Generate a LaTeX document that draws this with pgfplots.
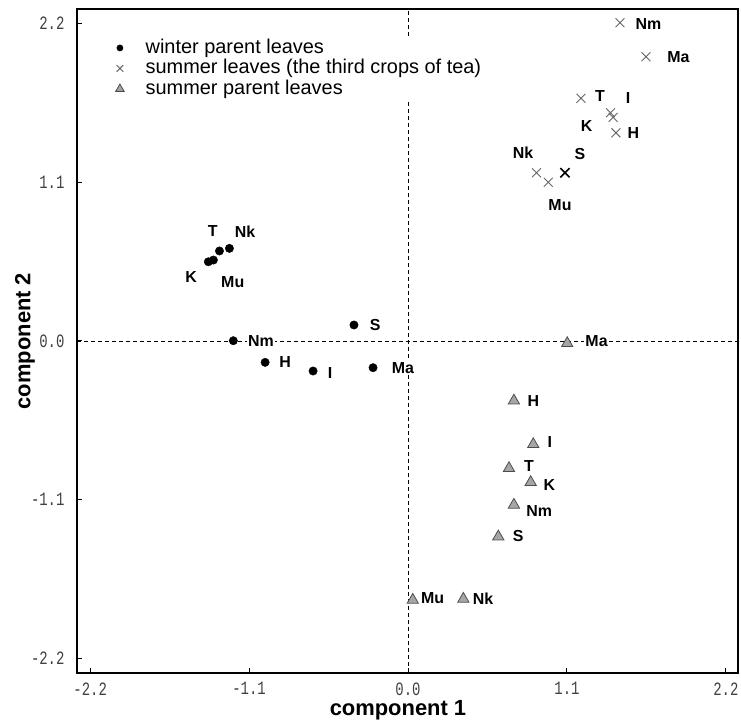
\documentclass[border=0pt]{standalone}
\usepackage{graphicx}
\usepackage{pgfplots}
\pgfplotsset{compat=1.18}
\usepackage{fontspec}
\setmainfont{Liberation Sans}
\newfontfamily\tickfont{Liberation Mono}
\newcommand\tl[1]{\scalebox{1}[1.35]{#1}}

\pgfplotstableread{
x y
-1.382 0.549
-1.347 0.561
-1.305 0.624
-1.236 0.642
-1.209 0.002
-0.374 0.111
-0.989 -0.148
-0.657 -0.208
-0.242 -0.185
}\winter

\pgfplotstableread{
x y
1.467 2.206
1.647 1.970
1.197 1.682
1.402 1.582
1.420 1.550
1.439 1.443
0.890 1.166
0.971 1.100
}\summer

\pgfplotstableread{
x y
0.733 -0.414
0.867 -0.716
0.699 -0.882
0.849 -0.979
0.733 -1.136
0.625 -1.356
0.383 -1.788
0.033 -1.795
1.102 -0.016
}\parent

\begin{document}
\begin{tikzpicture}
\begin{axis}[
  scale only axis, width=661bp, height=664bp,
  xmin=-2.291, xmax=2.284, ymin=-2.301, ymax=2.301,
  xtick={-2.2,-1.1,0,1.1,2.2}, ytick={-2.2,-1.1,0,1.1,2.2},
  xticklabels={\tl{-2.2},\tl{-1.1},\tl{0.0},\tl{1.1},\tl{2.2}},
  yticklabels={\tl{-2.2},\tl{-1.1},\tl{0.0},\tl{1.1},\tl{2.2}},
  tick align=inside, xtick pos=bottom, ytick pos=left,
  major tick length=5bp,
  major tick style={black, line width=1bp},
  axis line style={line width=1.3bp, black},
  ticklabel style={font=\tickfont\fontsize{14}{14}\selectfont, text=black!75},
  xticklabel style={yshift=-6bp},
  yticklabel style={xshift=-9bp},
  xlabel={\textbf{component 1}}, ylabel={\textbf{component 2}},
  label style={font=\fontsize{22}{22}\selectfont},
  xlabel style={at={(axis description cs:0.4856,-0.0557)}, anchor=center},
  ylabel style={at={(axis description cs:-0.0787,0.5)}, anchor=center},
  legend style={at={(axis description cs:0,1)}, anchor=north west, xshift=38.5bp, yshift=-28.5bp,
    draw=none, fill=white, inner sep=0bp, font=\fontsize{20}{20}\selectfont,
    nodes={inner sep=1bp, text height=14.5bp, text depth=4bp},
    /tikz/every odd column/.append style={column sep=20.5bp}},
  legend cell align=left,
  legend image code/.code={\draw[mark repeat=2,mark phase=2,#1,/tikz/every mark/.append style={scale=0.75}] plot coordinates {(0cm,0cm)(0.3cm,0cm)(0.6cm,0cm)};},
]
\draw[dash pattern=on 4bp off 3bp, line width=0.8bp] (axis cs:0,-2.301) -- (axis cs:0,2.301);
\draw[dash pattern=on 4bp off 3bp, line width=0.8bp] (axis cs:-2.291,0) -- (axis cs:2.284,0);

\addplot[only marks, mark=*, mark size=4.2bp, black] table {\winter};
\addlegendentry{winter parent leaves}
\addplot[only marks, mark=x, mark size=6.3bp, black!60, mark options={line width=0.9bp}] table {\summer};
\addlegendentry{summer leaves (the third crops of tea)}
\addplot[only marks, mark=triangle*, mark size=6.5bp, black!70, mark options={draw=black!70, fill=black!35, line width=0.8bp}] table {\parent};
\addlegendentry{summer parent leaves}
\addplot[only marks, mark=x, mark size=6.5bp, black, mark options={line width=1.6bp}, forget plot] coordinates {(1.086,1.166)};

\begin{scope}[every node/.style={fill=white, inner sep=1.5bp, font=\bfseries\fontsize{16}{16}\selectfont}]
% winter
\node at (axis cs:-1.351,0.764) {T};
\node at (axis cs:-1.128,0.757) {Nk};
\node at (axis cs:-1.501,0.446) {K};
\node at (axis cs:-1.213,0.411) {Mu};
\node at (axis cs:-1.017,0.002) {Nm};
\node at (axis cs:-0.228,0.111) {S};
\node at (axis cs:-0.851,-0.143) {H};
\node at (axis cs:-0.540,-0.220) {I};
\node at (axis cs:-0.035,-0.185) {Ma};
% summer leaves
\node at (axis cs:1.664,2.197) {Nm};
\node at (axis cs:1.871,1.970) {Ma};
\node at (axis cs:1.328,1.700) {T};
\node at (axis cs:1.524,1.682) {I};
\node at (axis cs:1.236,1.490) {K};
\node at (axis cs:1.559,1.443) {H};
\node at (axis cs:0.796,1.303) {Nk};
\node at (axis cs:1.190,1.296) {S};
\node at (axis cs:1.052,0.942) {Mu};
% summer parent
\node at (axis cs:0.867,-0.414) {H};
\node at (axis cs:0.982,-0.698) {I};
\node at (axis cs:0.837,-0.866) {T};
\node at (axis cs:0.978,-0.998) {K};
\node at (axis cs:0.908,-1.178) {Nm};
\node at (axis cs:0.763,-1.351) {S};
\node at (axis cs:0.519,-1.788) {Nk};
\node at (axis cs:0.170,-1.781) {Mu};
\node at (axis cs:1.305,0.002) {Ma};
\end{scope}
\end{axis}
\pgfresetboundingbox
\path[use as bounding box] ([xshift=-77bp,yshift=-48bp]current axis.south west) rectangle ([xshift=3bp,yshift=9bp]current axis.north east);
\end{tikzpicture}
\end{document}
